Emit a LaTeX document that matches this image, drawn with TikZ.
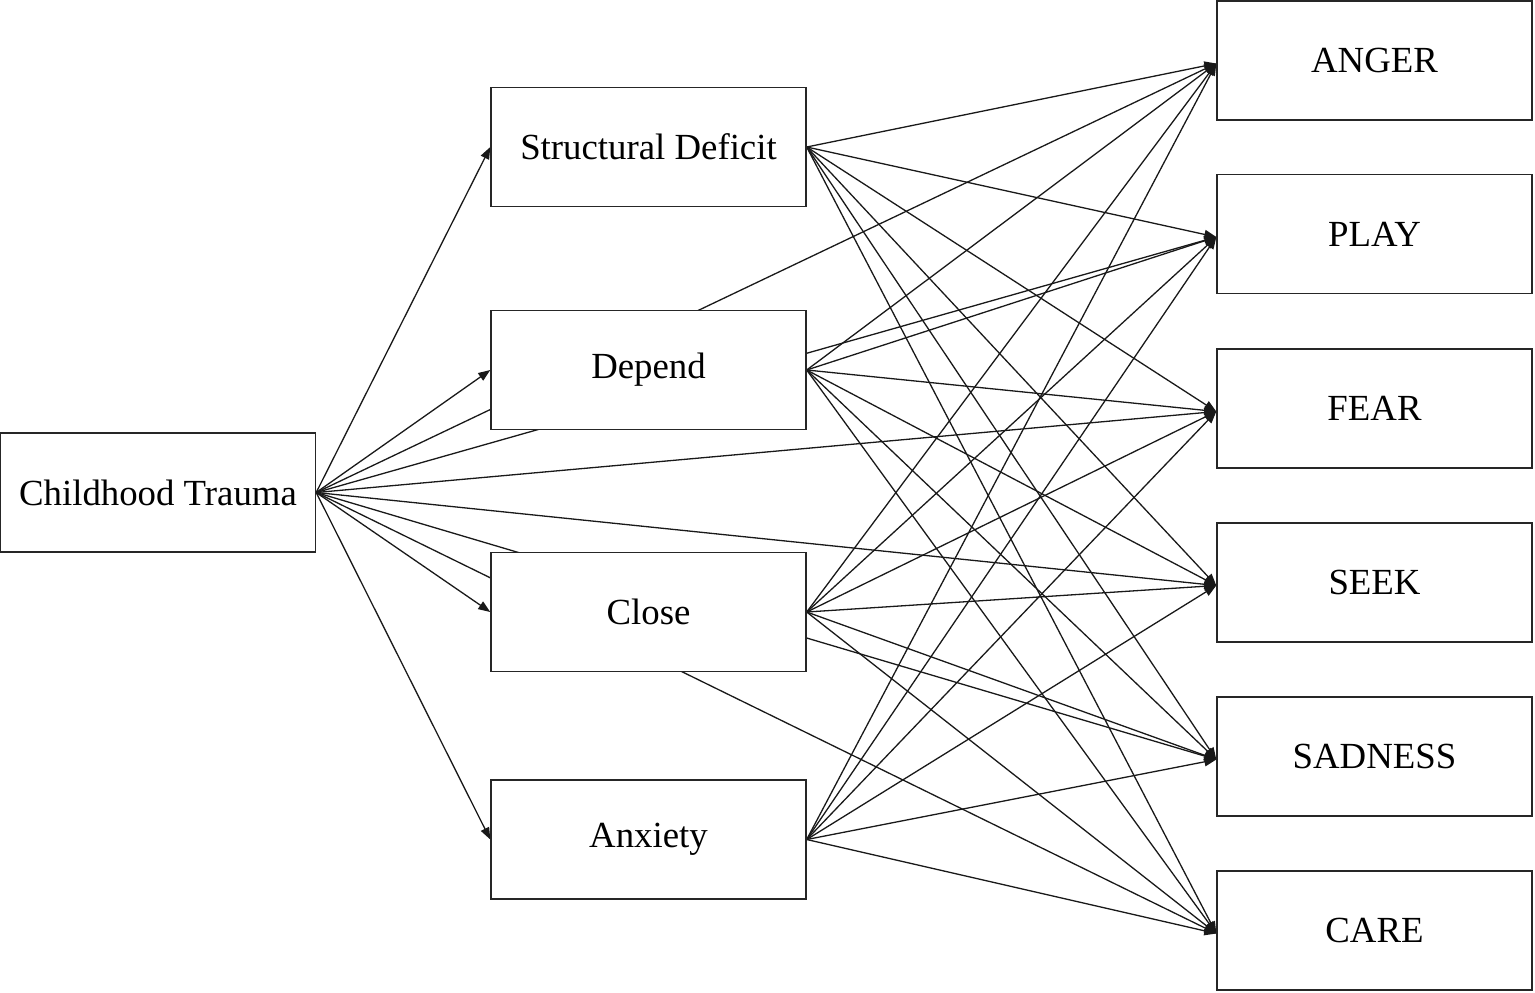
\documentclass[tikz,border=0pt]{standalone}
\usepackage{fontspec}
\setmainfont{Liberation Serif}
\usetikzlibrary{arrows.meta,backgrounds}
\begin{document}
\begin{tikzpicture}[x=0.5pt,y=-0.5pt,
  box/.style={draw=black!85,line width=0.7pt,fill=white,minimum width=157.5pt,minimum height=59.5pt,inner sep=0pt,font=\fontsize{18.4}{20}\selectfont},
  link/.style={draw=black!90,line width=0.65pt,-{Triangle[length=6pt,width=4.5pt]}}]
\useasboundingbox (0,0) rectangle (1535,992);
\node[box] (ct) at (158,492.5) {Childhood Trauma};
\node[box] (sd) at (648.5,147) {Structural Deficit};
\node[box] (de) at (648.5,370) {Depend};
\node[box] (cl) at (648.5,612) {Close};
\node[box] (an) at (648.5,839.5) {Anxiety};
\node[box] (anger) at (1374.5,60.5) {ANGER};
\node[box] (play) at (1374.5,234) {PLAY};
\node[box] (fear) at (1374.5,408.5) {FEAR};
\node[box] (seek) at (1374.5,582.5) {SEEK};
\node[box] (sad) at (1374.5,756.5) {SADNESS};
\node[box] (care) at (1374.5,930.5) {CARE};
\begin{scope}[on background layer]
\foreach \m in {sd,de,cl,an} \draw[link] (ct.east) -- (\m.west);
\foreach \s in {ct,sd,de,cl,an}
  \foreach \e in {anger,play,fear,seek,sad,care}
    \draw[link] (\s.east) -- ([yshift=-1.5pt]\e.west);
\end{scope}
\end{tikzpicture}
\end{document}
